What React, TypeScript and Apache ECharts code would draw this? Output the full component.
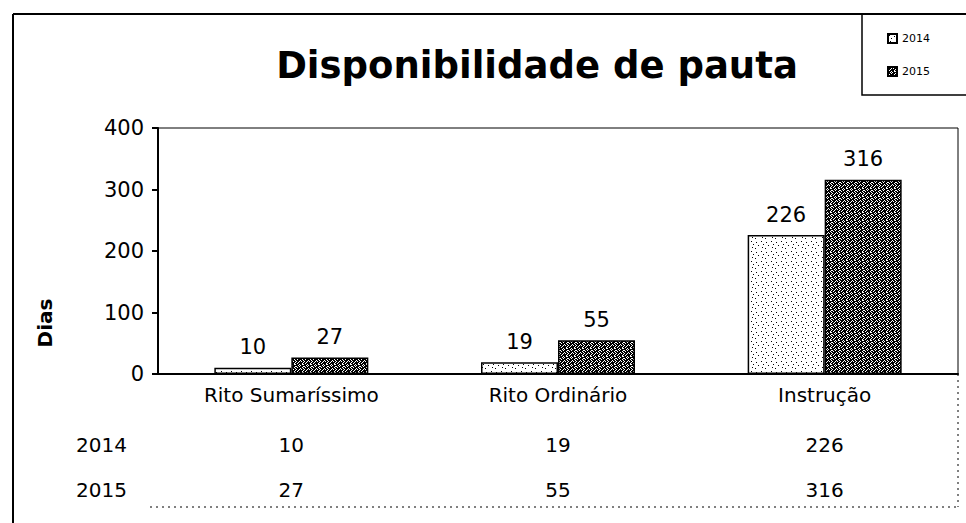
import React, { useEffect, useRef } from "react";
import * as echarts from "echarts";

const title = "Disponibilidade de pauta";
const categories = ["Rito Sumaríssimo", "Rito Ordinário", "Instrução"];
const seriesNames = ["2014", "2015"];
const values2014 = [10, 19, 226];
const values2015 = [27, 55, 316];
const yTicks = { min: 0, max: 400, interval: 100 };
const yName = "Dias";

const FONT = "DejaVu Sans";

function makePattern(rows: string[], bg: string, fg: string): HTMLCanvasElement {
  const h = rows.length;
  const w = rows[0].length;
  const c = document.createElement("canvas");
  c.width = w;
  c.height = h;
  const ctx = c.getContext("2d")!;
  ctx.fillStyle = bg;
  ctx.fillRect(0, 0, w, h);
  ctx.fillStyle = fg;
  for (let y = 0; y < h; y++) {
    for (let x = 0; x < w; x++) {
      if (rows[y][x] === "1") ctx.fillRect(x, y, 1, 1);
    }
  }
  return c;
}

const sparseBits = [
  "0000000000",
  "0100000000",
  "0000001000",
  "0000000000",
  "0001000000",
  "0000000010",
  "0000000000",
  "0010000000",
  "0000010000",
  "0000000000",
];
const denseBits = [
  "11110110",
  "01101011",
  "11011110",
  "10111101",
  "11101100",
  "11010111",
  "01101110",
  "10111101",
];

export default function App() {
  const ref = useRef<HTMLDivElement>(null);
  useEffect(() => {
    document.body.style.margin = "0";
    if (!ref.current) return;
    const chart = echarts.init(ref.current, undefined, { renderer: "svg" });
    const p14 = makePattern(sparseBits, "#ffffff", "#000000");
    const p15 = makePattern(denseBits, "#ffffff", "#000000");
    const fills = [
      { image: p14, repeat: "repeat" },
      { image: p15, repeat: "repeat" },
    ];
    const allValues = [values2014, values2015];

    const rich: any = {
      c: { fontFamily: FONT, fontSize: 20, color: "#000", lineHeight: 26 },
      s: { fontSize: 10, lineHeight: 14 },
      v: { fontFamily: FONT, fontSize: 20, color: "#000", lineHeight: 46 },
      w: { fontFamily: FONT, fontSize: 20, color: "#000", lineHeight: 44 },
    };

    chart.setOption({
      animation: false,
      backgroundColor: "#ffffff",
      title: {
        text: title,
        left: 532,
        top: 42,
        textAlign: "center",
        textStyle: { fontFamily: FONT, fontSize: 37, fontWeight: "bold", color: "#000" },
      },
      legend: {
        orient: "vertical",
        left: 882,
        top: 28,
        itemWidth: 9,
        itemHeight: 9,
        itemGap: 22,
        icon: "rect",
        textStyle: { fontFamily: FONT, fontSize: 11, color: "#000" },
        data: seriesNames,
      },
      grid: {
        left: 158,
        right: 8,
        top: 128,
        bottom: 149,
        show: true,
        borderColor: "#000",
        borderWidth: 1,
        backgroundColor: "transparent",
      },
      xAxis: {
        type: "category",
        data: categories,
        axisLine: { lineStyle: { color: "#000", width: 2 } },
        axisTick: { show: false },
        axisLabel: {
          margin: 8,
          interval: 0,
          formatter: (val: string, idx: number) =>
            `{c|${val}}\n{s| }\n{v|${values2014[idx]}}\n{w|${values2015[idx]}}`,
          rich,
        },
      },
      yAxis: {
        type: "value",
        min: yTicks.min,
        max: yTicks.max,
        interval: yTicks.interval,
        axisLine: { show: true, lineStyle: { color: "#000", width: 2 } },
        axisTick: { show: true, length: 6, lineStyle: { color: "#000", width: 2 } },
        splitLine: { show: false },
        axisLabel: { margin: 14, fontFamily: FONT, fontSize: 21, color: "#000" },
      },
      series: seriesNames.map((name, i) => ({
        name,
        type: "bar",
        data: allValues[i],
        barWidth: 77,
        barGap: "0%",
        itemStyle: { color: fills[i], borderColor: "#000", borderWidth: 1.5 },
        label: {
          show: true,
          position: "top",
          distance: 10,
          fontFamily: FONT,
          fontSize: 21,
          color: "#000",
        },
      })),
      graphic: [
        { type: "line", shape: { x1: 13, y1: 14, x2: 966, y2: 14 }, style: { stroke: "#000", lineWidth: 2 } },
        { type: "line", shape: { x1: 13, y1: 14, x2: 13, y2: 523 }, style: { stroke: "#000", lineWidth: 2 } },
        { type: "rect", shape: { x: 862, y: 14, width: 110, height: 81 }, style: { stroke: "#000", fill: "none", lineWidth: 1.5 } },
        { type: "line", shape: { x1: 958, y1: 374, x2: 958, y2: 507 }, style: { stroke: "#000", lineWidth: 1, lineDash: [2, 4] } },
        { type: "line", shape: { x1: 150, y1: 507, x2: 958, y2: 507 }, style: { stroke: "#000", lineWidth: 1, lineDash: [2, 4] } },
        {
          type: "text",
          x: 45,
          y: 323,
          rotation: Math.PI / 2,
          style: { text: yName, fontFamily: FONT, fontSize: 20, fontWeight: "bold", fill: "#000", align: "center", verticalAlign: "middle" },
        },
        { type: "text", x: 76, y: 445, style: { text: seriesNames[0], fontFamily: FONT, fontSize: 20, fill: "#000", align: "left", verticalAlign: "middle" } },
        { type: "text", x: 76, y: 490, style: { text: seriesNames[1], fontFamily: FONT, fontSize: 20, fill: "#000", align: "left", verticalAlign: "middle" } },
      ],
    });
    return () => chart.dispose();
  }, []);
  return <div ref={ref} style={{ width: 966, height: 523 }} />;
}
